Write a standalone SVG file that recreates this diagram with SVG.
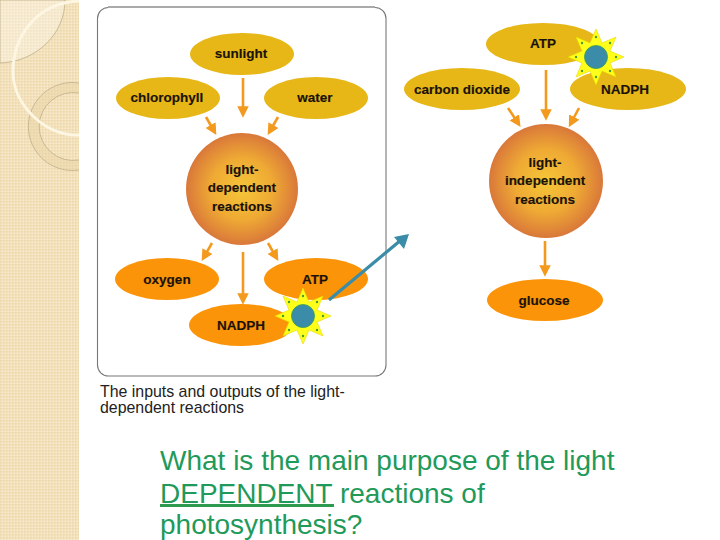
<svg xmlns="http://www.w3.org/2000/svg" width="720" height="540" viewBox="0 0 720 540">
<style>
text{font-family:"Liberation Sans",Arial,sans-serif}
.l{font-size:13.5px;font-weight:bold;fill:#1a1208;text-anchor:middle;stroke:#1a1208;stroke-width:.15}
.g{fill:#e6b716}.o{fill:#fb9408}
.a{stroke:#f39a1e;stroke-width:2.6;fill:none;marker-end:url(#ah)}
.q{font-size:28px;fill:#1f9a5a}
.c{font-size:15.9px;fill:#222}
.ring{fill:none;stroke:#bfae8a;stroke-width:.8}
</style>
<defs>
<pattern id="bg" width="3" height="3" patternUnits="userSpaceOnUse"><rect width="3" height="3" fill="#f3e1bb"/><rect width="1.500" height="1.500" fill="#ecd8ac"/><rect x="1.500" y="1.500" width="1.500" height="1.500" fill="#f7e9cc"/></pattern>
<radialGradient id="ball"><stop offset="0" stop-color="#f5c638"/><stop offset=".55" stop-color="#efaa34"/><stop offset="1" stop-color="#d9783a"/></radialGradient>
<marker id="ah" markerWidth="4.4" markerHeight="4.4" refX="2.6" refY="2.2" orient="auto"><path d="M0 0L4.4 2.2L0 4.4z" fill="#f39a1e"/></marker>
<g id="sun"><polygon points="0,-28 6,-14 20,-20 14,-6 28,0 14,6 20,20 6,14 0,28 -6,14 -20,20 -14,6 -28,0 -14,-6 -20,-20 -6,-14" fill="#ffff1a" stroke="#e8d800" stroke-width=".6"/><circle r="11.500" fill="#3a8ca8" stroke="#3aa050" stroke-width=".8"/><g fill="#4a9a3a"><circle cy="-20" r="1.200"/><circle cy="20" r="1.200"/><circle cx="-20" r="1.200"/><circle cx="20" r="1.200"/><circle cx="-14" cy="-14" r="1.200"/><circle cx="14" cy="-14" r="1.200"/><circle cx="-14" cy="14" r="1.200"/><circle cx="14" cy="14" r="1.200"/></g></g>
</defs>
<rect width="720" height="540" fill="#fff"/>
<g id="sidebar">
<rect width="79" height="540" fill="url(#bg)"/>
<path d="M0 0H65C65 35 35 62 0 63z" fill="#fff" fill-opacity=".3" stroke="#bfae8a" stroke-width=".8"/>
<path d="M79 83A44 44 0 1 0 79 170L79 160A34 34 0 1 1 79 93z" fill="#e8d3a4" fill-opacity=".45"/>
<path d="M79 83A44 44 0 1 0 79 170" class="ring"/>
<path d="M79 93A34 34 0 1 0 79 160" class="ring"/>
<path d="M79 1C35 3 13 38 13 72C13 105 45 136 79 135" fill="none" stroke="#fdf6e2" stroke-width="3"/>
</g>
<rect id="panel" x="97.500" y="7.500" width="288.500" height="368.500" rx="11" fill="#fff" stroke="#777" stroke-width="1.100"/>
<path d="M108 7H375" stroke="#aaa" stroke-width="2"/>
<g id="connectors">
<path class="a" d="M243 78V113"/>
<path class="a" d="M206 117L214 131"/>
<path class="a" d="M278 117L270 131"/>
<path class="a" d="M212 243L204 257"/>
<path class="a" d="M268 243L276 257"/>
<path class="a" d="M243 252V300"/>
<path class="a" d="M546 70V116"/>
<path class="a" d="M508 108L518 123"/>
<path class="a" d="M579 108L571 123"/>
<path class="a" d="M545 241V272"/>
</g>
<g id="n-sunlight"><ellipse class="g" cx="242" cy="54" rx="52" ry="21"/><text class="l" x="241" y="58">sunlight</text></g>
<g id="n-chlorophyll"><ellipse class="g" cx="168" cy="98" rx="52" ry="21"/><text class="l" x="167" y="102">chlorophyll</text></g>
<g id="n-water"><ellipse class="g" cx="316" cy="98" rx="52" ry="21"/><text class="l" x="315" y="102">water</text></g>
<g id="n-light-dependent"><circle cx="242" cy="189" r="56" fill="url(#ball)"/><text class="l" x="242" y="174">light-</text><text class="l" x="242" y="192">dependent</text><text class="l" x="242" y="211">reactions</text></g>
<g id="n-oxygen"><ellipse class="o" cx="167" cy="279" rx="52" ry="21"/><text class="l" x="167" y="284">oxygen</text></g>
<g id="n-atp"><ellipse class="o" cx="316" cy="279" rx="52" ry="21"/><text class="l" x="315" y="284">ATP</text></g>
<g id="n-nadph"><ellipse class="o" cx="241" cy="325" rx="52" ry="21"/><text class="l" x="241" y="330">NADPH</text></g>
<g id="n-atp2"><ellipse class="g" cx="543" cy="44" rx="57" ry="21"/><text class="l" x="543" y="48">ATP</text></g>
<g id="n-co2"><ellipse class="g" cx="462" cy="89" rx="58" ry="21"/><text class="l" x="462" y="94">carbon dioxide</text></g>
<g id="n-nadph2"><ellipse class="g" cx="628" cy="89" rx="58" ry="21"/><text class="l" x="625" y="94">NADPH</text></g>
<g id="n-light-independent"><circle cx="546" cy="181" r="57" fill="url(#ball)"/><text class="l" x="545" y="167">light-</text><text class="l" x="545" y="185">independent</text><text class="l" x="545" y="204">reactions</text></g>
<g id="n-glucose"><ellipse class="o" cx="545" cy="300" rx="58" ry="21"/><text class="l" x="544" y="305">glucose</text></g>
<g id="sun1"><use href="#sun" x="303" y="316"/></g>
<g id="sun2"><use href="#sun" x="596" y="57"/></g>
<g id="blue-arrow"><path d="M329 300L401 240" stroke="#3a8ca8" stroke-width="3.200" fill="none"/><polygon points="409,234 394,237 404,249" fill="#3a8ca8"/></g>
<g id="caption"><text class="c" x="100" y="397">The inputs and outputs of the light-</text><text class="c" x="100" y="413">dependent reactions</text></g>
<g id="question"><text class="q" x="160" y="470">What is the main purpose of the light</text><text class="q" x="160" y="502.500">DEPENDENT reactions of</text><rect x="160" y="504" width="174" height="3" fill="#2e9a50"/><text class="q" x="160" y="534">photosynthesis?</text></g>
</svg>
